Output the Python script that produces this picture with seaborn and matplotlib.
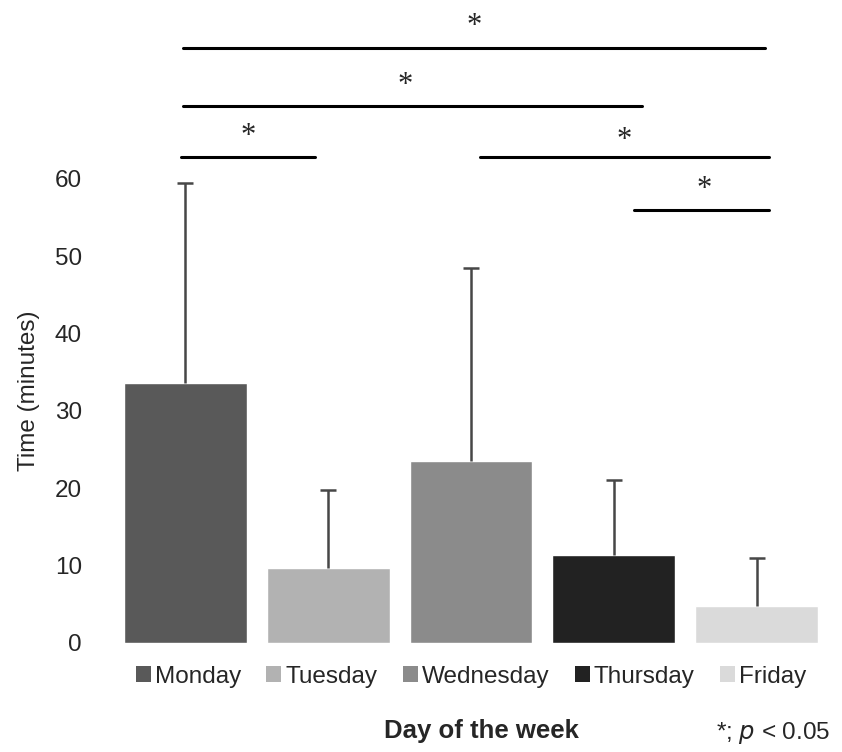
import numpy as np
import pandas as pd
import matplotlib
matplotlib.use("Agg")
import matplotlib.pyplot as plt
import seaborn as sns
from matplotlib.patches import Patch

# ---------------------------
# Data
# ---------------------------
days = ["Monday", "Tuesday", "Wednesday", "Thursday", "Friday"]
mean_time = [33.6, 9.7, 23.5, 11.4, 4.8]
sd_time = [25.9, 10.1, 25.0, 9.6, 6.2]
bar_colors = ["#595959", "#b2b2b2", "#8b8b8b", "#222222", "#dadada"]

# significance lines: start, end (category units), height (minutes)
sig_x0 = [-0.02, -0.02, -0.03, 2.06, 3.14]
sig_x1 = [4.06, 3.2, 0.91, 4.09, 4.09]
sig_y = [76.9, 69.4, 62.8, 62.8, 56.0]
star_x = [2.02, 1.54, 0.44, 3.07, 3.63]
star_y = [79.7, 72.0, 65.4, 65.0, 58.6]

df = pd.DataFrame({"day": days, "time": mean_time})

# ---------------------------
# Plot
# ---------------------------
sns.set_style("white")
plt.rcParams["font.family"] = ["Liberation Sans", "DejaVu Sans"]

fig = plt.figure(figsize=(8.42, 7.52), dpi=100)
ax = fig.add_axes([0.1354, 0.145, 0.848, 0.855])

sns.barplot(data=df, x="day", y="time", hue="day", palette=bar_colors,
            order=days, hue_order=days, width=0.86, errorbar=None,
            legend=False, ax=ax)

# upper error bars only
xpos = np.arange(len(days))
eb = ax.errorbar(xpos, mean_time, yerr=[np.zeros(len(days)), sd_time], fmt="none",
                 ecolor="#474747", elinewidth=1.8, capsize=6, capthick=1.8)
eb[1][0].set_visible(False)

for x0, x1, y in zip(sig_x0, sig_x1, sig_y):
    ax.plot([x0, x1], [y, y], color="black", lw=2.2, clip_on=False,
            solid_capstyle="round")
for x, y in zip(star_x, star_y):
    ax.text(x, y, "*", ha="center", va="center", fontsize=22,
            family="Liberation Serif", clip_on=False)

ax.set_xlim(-0.5, 4.5)
ax.set_ylim(0, 83.1)
ax.set_yticks(range(0, 61, 10))
ax.tick_params(axis="y", labelsize=17.5, length=0, pad=23)
ax.set_xticks([])
ax.set_xlabel("")
ax.set_ylabel("Time (minutes)", fontsize=17.5)
ax.yaxis.set_label_coords(-0.104, 0.392)
sns.despine(ax=ax, left=True, bottom=True)

handles = [Patch(facecolor=c, edgecolor="none") for c in bar_colors]
ax.legend(handles, days, loc="center", bbox_to_anchor=(0.5, -0.0527),
          ncol=5, frameon=False, fontsize=17.5, handlelength=0.62,
          handleheight=0.62, handletextpad=0.16, columnspacing=1.05,
          borderaxespad=0, borderpad=0)

fig.text(481 / 842, 1 - 731 / 752, "Day of the week", ha="center", va="center",
         fontsize=18.5, fontweight="bold")
fig.text(830 / 842, 1 - 733 / 752, "*; $\\mathit{p}$ < 0.05", ha="right", va="center",
         fontsize=17.5)

fig.savefig("out.png", dpi=100)
